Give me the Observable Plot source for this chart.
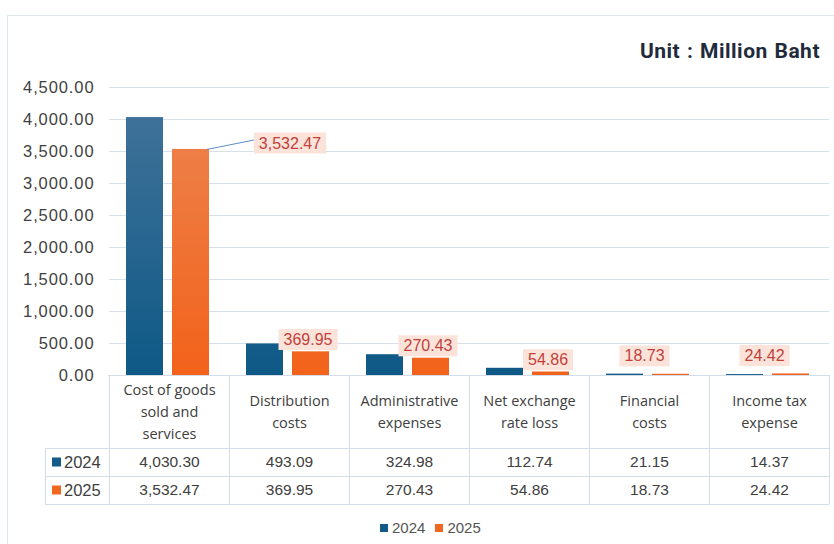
<!DOCTYPE html>
<html>
<head>
<meta charset="utf-8">
<script src="https://cdn.jsdelivr.net/npm/d3@7"></script>
<script src="https://cdn.jsdelivr.net/npm/@observablehq/plot@0.6"></script>
<style>
  body { margin: 0; background: #fff; }
  #wrap { position: relative; width: 834px; height: 544px; overflow: hidden; font-family: "Liberation Sans", Arial, sans-serif; }
  #frame { position: absolute; left: 7px; top: 15px; width: 860px; height: 600px; border: 1.5px solid #dde7f0; box-sizing: border-box; }
  #title { position: absolute; right: 14px; top: 39px; font: 700 21px Roboto, sans-serif; letter-spacing: 0.5px; word-spacing: 1px; color: #1e2b3c; line-height: 24px; }
  #chart { position: absolute; left: 0; top: 0; }
  #chart svg g[aria-label="y-axis tick label"] text { letter-spacing: 0.9px; }
  #legend { position: absolute; top: 519px; left: 380px; font-size: 15px; color: #555; display: flex; align-items: center; line-height: 18px; }
  #legend .sw { display: inline-block; width: 8px; height: 8px; margin-right: 4px; }
  #legend .it { display: flex; align-items: center; margin-right: 10px; }
</style>
</head>
<body>
<div id="wrap">
  <div id="frame"></div>
  <div id="title">Unit : Million Baht</div>
  <div id="chart"></div>
  <div id="legend"></div>
</div>
<script>
// ---- data ----
const categories = ["Cost of goods sold and services", "Distribution costs", "Administrative expenses", "Net exchange rate loss", "Financial costs", "Income tax expense"];
const categoryLines = ["Cost of goods\nsold and\nservices", "Distribution\ncosts", "Administrative\nexpenses", "Net exchange\nrate loss", "Financial\ncosts", "Income tax\nexpense"];
const years = ["2024", "2025"];
const values2024 = [4030.30, 493.09, 324.98, 112.74, 21.15, 14.37];
const values2025 = [3532.47, 369.95, 270.43, 54.86, 18.73, 24.42];
const yTicks = [0, 500, 1000, 1500, 2000, 2500, 3000, 3500, 4000, 4500];
const seriesColors = ["#155b87", "#f0671f"];

const fmt = d3.format(",.2f");
const bars = categories.flatMap((c, i) => [
  {category: c, year: years[0], value: values2024[i]},
  {category: c, year: years[1], value: values2025[i]}
]);
const bars2024 = bars.filter(d => d.year === years[0]);
const bars2025 = bars.filter(d => d.year === years[1]);
const rows = categories.map((c, i) => ({category: c, label: categoryLines[i], v24: values2024[i], v25: values2025[i]}));
const maxLabel = fmt(d3.max(values2025));

const LABEL_FILL = "#c0413a";
const labelStyle = {fill: LABEL_FILL, fontSize: 16, fontFamily: "Liberation Sans, Arial, sans-serif"};
const tableText = {fill: "#404040", fontSize: 15.5, frameAnchor: "bottom", lineAnchor: "middle"};

const chart = Plot.plot({
  width: 834,
  height: 544,
  marginTop: 87,
  marginBottom: 169,
  marginLeft: 108,
  marginRight: 5,
  style: {fontFamily: "Liberation Sans, Arial, sans-serif", fontSize: "14px", color: "#404040", background: "transparent", overflow: "visible"},
  fx: {domain: categories, padding: 0, axis: null},
  x: {domain: years, paddingInner: 0.196, paddingOuter: 0.4, align: 0.47, axis: null},
  y: {domain: [0, 4500], axis: null},
  marks: [
    Plot.gridY(yTicks, {stroke: "#d5e0ea", strokeOpacity: 1}),
    Plot.axisY(yTicks, {tickFormat: fmt, tickSize: 0, tickPadding: 15, fontSize: 16.5, fill: "#3f3f3f", label: null}),
    Plot.barY(bars2024, {fx: "category", x: "year", y: "value", fill: "url(#gBlue)"}),
    Plot.barY(bars2025, {fx: "category", x: "year", y: "value", fill: "url(#gOrange)"}),
    // data labels for 2025
    Plot.text(bars2025.filter(d => d.value >= 1000), {fx: "category", x: "year", y: "value", text: d => fmt(d.value), dx: 99, dy: -6, ...labelStyle}),
    Plot.text(bars2025.filter(d => d.value >= 50 && d.value < 1000), {fx: "category", x: "year", y: "value", text: d => fmt(d.value), dx: -3, dy: -12, ...labelStyle}),
    Plot.text(bars2025.filter(d => d.value < 50), {fx: "category", y: "value", text: d => fmt(d.value), dx: -5, dy: -18, ...labelStyle}),
    // data table
    Plot.text(rows, {fx: "category", text: "label", dy: 34.5, lineHeight: 1.5, ...tableText, fontFamily: "Open Sans, sans-serif", fontSize: 14.5}),
    Plot.text(rows, {fx: "category", text: d => fmt(d.v24), dy: 87, ...tableText}),
    Plot.text(rows, {fx: "category", text: d => fmt(d.v25), dy: 115, ...tableText})
  ]
});
document.getElementById("chart").appendChild(chart);

const svg = d3.select(chart);
// gradients
const defs = svg.insert("defs", ":first-child");
const yS = chart.scale("y");
const yTop = yS.apply(4500), yBase = yS.apply(0);
function grad(id, c0, c1) {
  const g = defs.append("linearGradient").attr("id", id).attr("gradientUnits", "userSpaceOnUse")
    .attr("x1", 0).attr("x2", 0).attr("y1", yTop).attr("y2", yBase);
  g.append("stop").attr("offset", 0).attr("stop-color", c0);
  g.append("stop").attr("offset", 1).attr("stop-color", c1);
}
grad("gBlue", "#44749b", "#0e5986");
grad("gOrange", "#ec8652", "#f2621a");

// label backgrounds
let bigLabRect = null;
svg.selectAll(`g[fill="${LABEL_FILL}"] text`).each(function () {
  const b = this.getBBox();
  const r = d3.select(this.parentNode).insert("rect", () => this)
    .attr("x", b.x - 5).attr("y", b.y - 2).attr("width", b.width + 10).attr("height", b.height + 4)
    .attr("fill", "#fce3da").attr("stroke", "none");
  const t = this.getAttribute("transform");
  if (t) r.attr("transform", t);
  if (this.textContent === maxLabel) bigLabRect = r.node();
});

// leader line for the big label (from top-right of tallest 2025 bar)
const svgBox = chart.getBoundingClientRect();
const orangeBars = svg.selectAll('g[fill="url(#gOrange)"] rect').nodes();
let bigBar = null, minTop = Infinity;
orangeBars.forEach(n => { const r = n.getBoundingClientRect(); if (r.top < minTop) { minTop = r.top; bigBar = n; } });
if (bigBar && bigLabRect) {
  const bb = bigBar.getBoundingClientRect(), lb = bigLabRect.getBoundingClientRect();
  svg.append("line")
    .attr("x1", bb.right - svgBox.left - 2).attr("y1", bb.top - svgBox.top + 0.5)
    .attr("x2", lb.left - svgBox.left).attr("y2", (lb.top + lb.bottom) / 2 - svgBox.top - 3)
    .attr("stroke", "#5b8fc8").attr("stroke-width", 1);
}

// table grid lines
const fxS = chart.scale("fx");
const left = fxS.range[0], right = fxS.range[1];
const headLeft = 45;
const rowY = [yBase, yBase + 73, yBase + 101, yBase + 129];
const tg = svg.append("g").attr("stroke", "#d3dde9").attr("stroke-width", 1).attr("shape-rendering", "crispEdges");
const edges = categories.map(c => fxS.apply(c)).concat([right]);
edges.forEach(x => tg.append("line").attr("x1", x).attr("x2", x).attr("y1", rowY[0]).attr("y2", rowY[3]));
tg.append("line").attr("x1", left).attr("x2", right).attr("y1", rowY[0]).attr("y2", rowY[0]);
rowY.slice(1).forEach(y => tg.append("line").attr("x1", headLeft).attr("x2", right).attr("y1", y).attr("y2", y));
tg.append("line").attr("x1", headLeft).attr("x2", headLeft).attr("y1", rowY[1]).attr("y2", rowY[3]);

// row headers
years.forEach((yr, i) => {
  const cy = (rowY[i + 1] + rowY[i + 2]) / 2;
  svg.append("rect").attr("x", 52).attr("y", cy - 4.5).attr("width", 9).attr("height", 9).attr("fill", seriesColors[i]);
  svg.append("text").attr("x", 64).attr("y", cy).attr("dy", "0.35em").attr("fill", "#404040")
    .attr("text-anchor", "start").attr("font-size", 16.5)
    .attr("font-family", "Liberation Sans, Arial, sans-serif").text(yr);
});

// legend
const legend = d3.select("#legend");
years.forEach((yr, i) => {
  const it = legend.append("span").attr("class", "it");
  it.append("span").attr("class", "sw").style("background", seriesColors[i]);
  it.append("span").text(yr);
});
</script>
</body>
</html>
